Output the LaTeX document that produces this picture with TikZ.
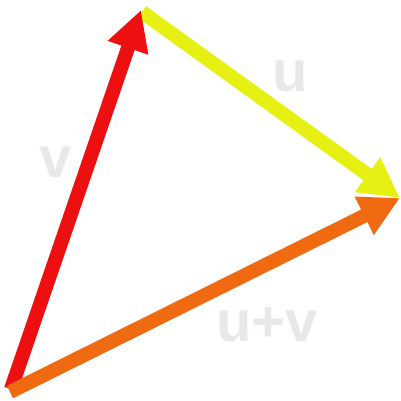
\documentclass[tikz,border=0pt]{standalone}
\usepackage{fontspec}
\setmainfont{Liberation Sans}
\usetikzlibrary{arrows.meta}
\definecolor{vred}{HTML}{EE1010}
\definecolor{uyel}{HTML}{E6F012}
\definecolor{sorg}{HTML}{F06A12}
\definecolor{lbl}{HTML}{E6E9E6}
\begin{document}
\begin{tikzpicture}[x=1pt,y=-1pt,
  vec/.style={line width=14pt,-{Triangle[length=40pt,width=40pt]}},
  lab/.style={text=lbl,font=\bfseries\fontsize{58}{58}\selectfont,anchor=base,inner sep=0pt}]
\useasboundingbox (0,0) rectangle (401,401);
\coordinate (O) at (11,389);
\coordinate (A) at (141,10);
\coordinate (B) at (400,198);
\coordinate (Os) at (10,392);
\coordinate (As) at (142,12);
\draw[vec,uyel] (As) -- (B);
\draw[vec,vred] (O) -- (A);
\draw[vec,sorg] (Os) -- (B);
\node[lab] (lv) at (56,177) {v};
\node[lab] (lu) at (290,92) {u};
\node[lab] (luv) at (267,341) {u+v};
\end{tikzpicture}
\end{document}
